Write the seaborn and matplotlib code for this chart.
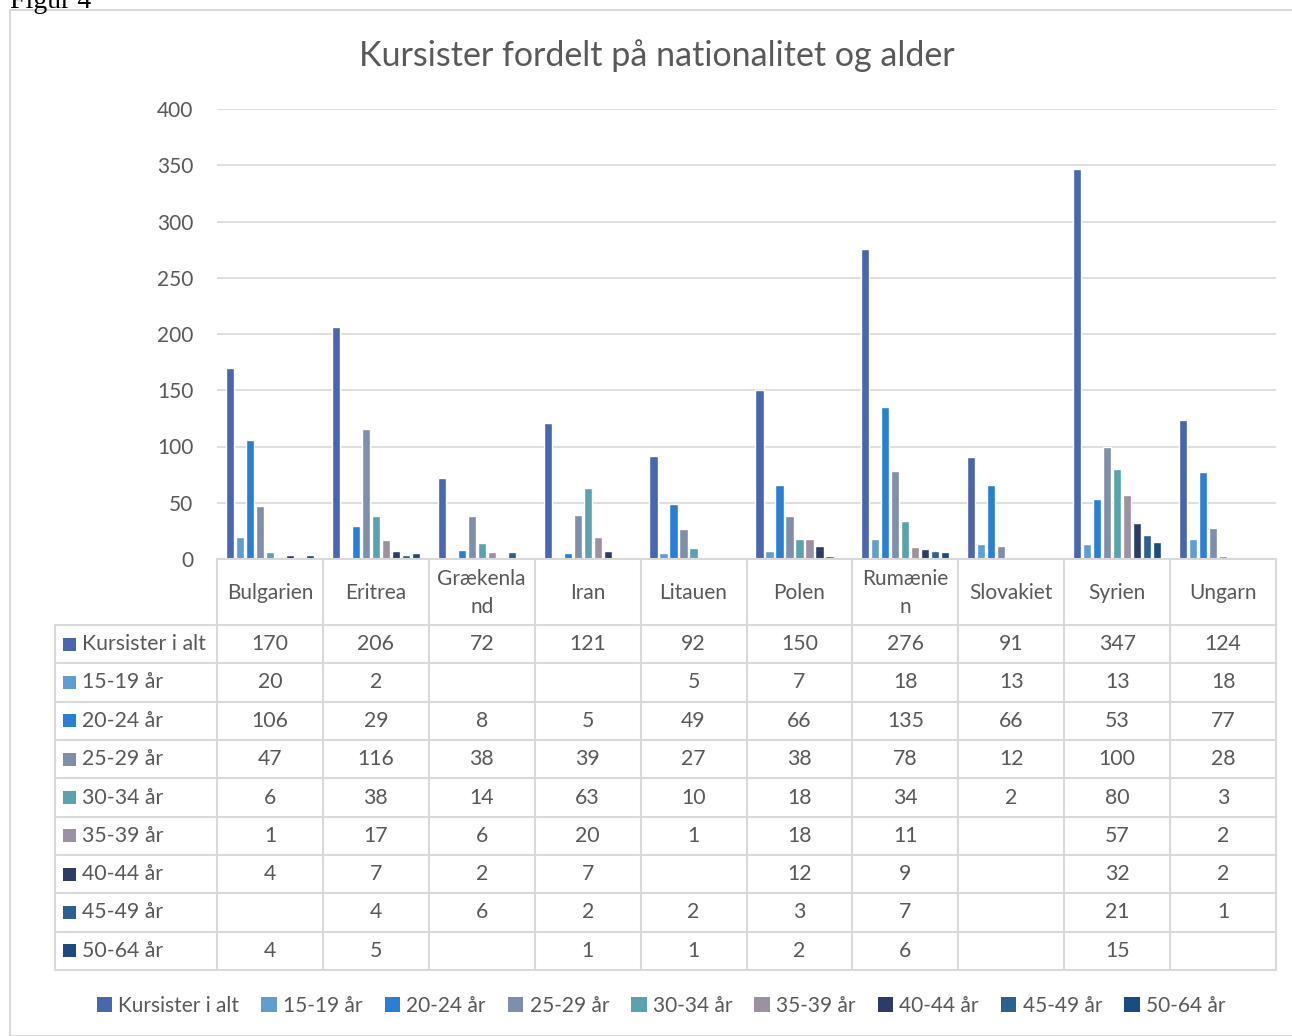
import numpy as np
import pandas as pd
import matplotlib
matplotlib.use("Agg")
import matplotlib.pyplot as plt
from matplotlib.patches import Rectangle, Patch
import seaborn as sns

# data (blank cells = nan)
nan = np.nan
countries = ["Bulgarien", "Eritrea", "Grækenland", "Iran", "Litauen",
             "Polen", "Rumænien", "Slovakiet", "Syrien", "Ungarn"]
header_labels = ["Bulgarien", "Eritrea", "Grækenla\nnd", "Iran", "Litauen",
                 "Polen", "Rumænie\nn", "Slovakiet", "Syrien", "Ungarn"]
series_names = ["Kursister i alt", "15-19 år", "20-24 år", "25-29 år", "30-34 år",
                "35-39 år", "40-44 år", "45-49 år", "50-64 år"]
kursister_i_alt = [170, 206, 72, 121, 92, 150, 276, 91, 347, 124]
aar_15_19 = [20, 2, nan, nan, 5, 7, 18, 13, 13, 18]
aar_20_24 = [106, 29, 8, 5, 49, 66, 135, 66, 53, 77]
aar_25_29 = [47, 116, 38, 39, 27, 38, 78, 12, 100, 28]
aar_30_34 = [6, 38, 14, 63, 10, 18, 34, 2, 80, 3]
aar_35_39 = [1, 17, 6, 20, 1, 18, 11, nan, 57, 2]
aar_40_44 = [4, 7, 2, 7, nan, 12, 9, nan, 32, 2]
aar_45_49 = [nan, 4, 6, 2, 2, 3, 7, nan, 21, 1]
aar_50_64 = [4, 5, nan, 1, 1, 2, 6, nan, 15, nan]
yticks = [0, 50, 100, 150, 200, 250, 300, 350, 400]

series_values = [kursister_i_alt, aar_15_19, aar_20_24, aar_25_29, aar_30_34,
                 aar_35_39, aar_40_44, aar_45_49, aar_50_64]
colors = ["#4a66ac", "#629dd1", "#297fd5", "#7f8fa9", "#5aa2ae",
          "#9d90a0", "#2c3c67", "#2a6190", "#1b4b80"]

rows = []
for name, vals in zip(series_names, series_values):
    for c, v in zip(countries, vals):
        rows.append({"Land": c, "Gruppe": name, "Antal": v})
df = pd.DataFrame(rows)
plot_df = df.fillna(0)

sns.set_style("white")
plt.rcParams["font.family"] = ["Lato", "DejaVu Sans"]
TXT = "#595959"
GRID = "#d9d9d9"

W, H = 1292, 1036
fig = plt.figure(figsize=(W / 100, H / 100), dpi=100)

# chart border and the cut-off caption above it
fig.patches.append(Rectangle((10 / W, 0), 1, 1 - 10 / H, transform=fig.transFigure,
                             fill=False, edgecolor=GRID, lw=1.5))
fig.text(10 / W, 1 - 8 / H, "Figur 4", family=["Liberation Serif"], fontsize=20,
         ha="left", va="baseline", color="black")
fig.text(657 / W, 1 - 56 / H, "Kursister fordelt på nationalitet og alder",
         ha="center", va="center", fontsize=24.5, color=TXT)

# plot area
ax = fig.add_axes([217 / W, 1 - 559 / H, 1059 / W, 450 / H])
sns.barplot(data=plot_df, x="Land", y="Antal", hue="Gruppe", order=countries,
            hue_order=series_names, palette=colors, saturation=1, errorbar=None,
            width=0.85, gap=0.18, ax=ax, legend=False)
ax.set_xlim(-0.5, 9.5)
ax.set_ylim(0, 400)
ax.set_yticks(yticks)
ax.set_yticklabels([str(t) for t in yticks], fontsize=15, color=TXT)
ax.tick_params(axis="y", length=0, pad=17)
ax.set_xticks([])
ax.set_xlabel("")
ax.set_ylabel("")
for t in yticks[1:]:
    ax.axhline(t, color=GRID, lw=1.2, zorder=0)
for s in ["top", "right", "left"]:
    ax.spines[s].set_visible(False)
ax.spines["bottom"].set_color(GRID)
ax.spines["bottom"].set_linewidth(1.5)

# data table below the plot area
col_w = 1059 / 10
x0 = -0.5 - 162 / col_w
axt = fig.add_axes([55 / W, 1 - 970 / H, 1221 / W, 411 / H])
axt.set_xlim(x0, 9.5)
axt.set_ylim(411, 0)
axt.axis("off")
head_h = 66
row_h = (411 - head_h) / 9

for i in range(11):
    xb = -0.5 + i
    axt.plot([xb, xb], [0, 411], color=GRID, lw=1.5, clip_on=False)
axt.plot([x0, x0], [head_h, 411], color=GRID, lw=1.5, clip_on=False)
for k in range(10):
    yb = head_h + k * row_h
    axt.plot([x0, 9.5], [yb, yb], color=GRID, lw=1.5, clip_on=False)

for i, lab in enumerate(header_labels):
    axt.text(i, head_h / 2 + 1, lab, ha="center", va="center", fontsize=15,
             color=TXT, linespacing=1.45)

for k, (name, vals, col) in enumerate(zip(series_names, series_values, colors)):
    yc = head_h + (k + 0.5) * row_h
    axt.add_patch(Rectangle((x0 + 8 / col_w, yc - 6.5), 13 / col_w, 13,
                            facecolor=col, edgecolor="none"))
    axt.text(x0 + 27 / col_w, yc, name, ha="left", va="center", fontsize=15.3, color=TXT)
    for i, v in enumerate(vals):
        if not np.isnan(v):
            axt.text(i, yc, f"{int(v)}", ha="center", va="center", fontsize=15.3, color=TXT)

# legend at the bottom
handles = [Patch(facecolor=c, edgecolor="none") for c in colors]
fig.legend(handles, series_names, loc="center", ncol=9,
           bbox_to_anchor=(661 / W, 1 - 1006 / H), frameon=False, fontsize=15,
           handlelength=0.75, handleheight=0.75, handletextpad=0.3,
           columnspacing=1.05, labelcolor=TXT)

fig.savefig("out.png", dpi=100)
